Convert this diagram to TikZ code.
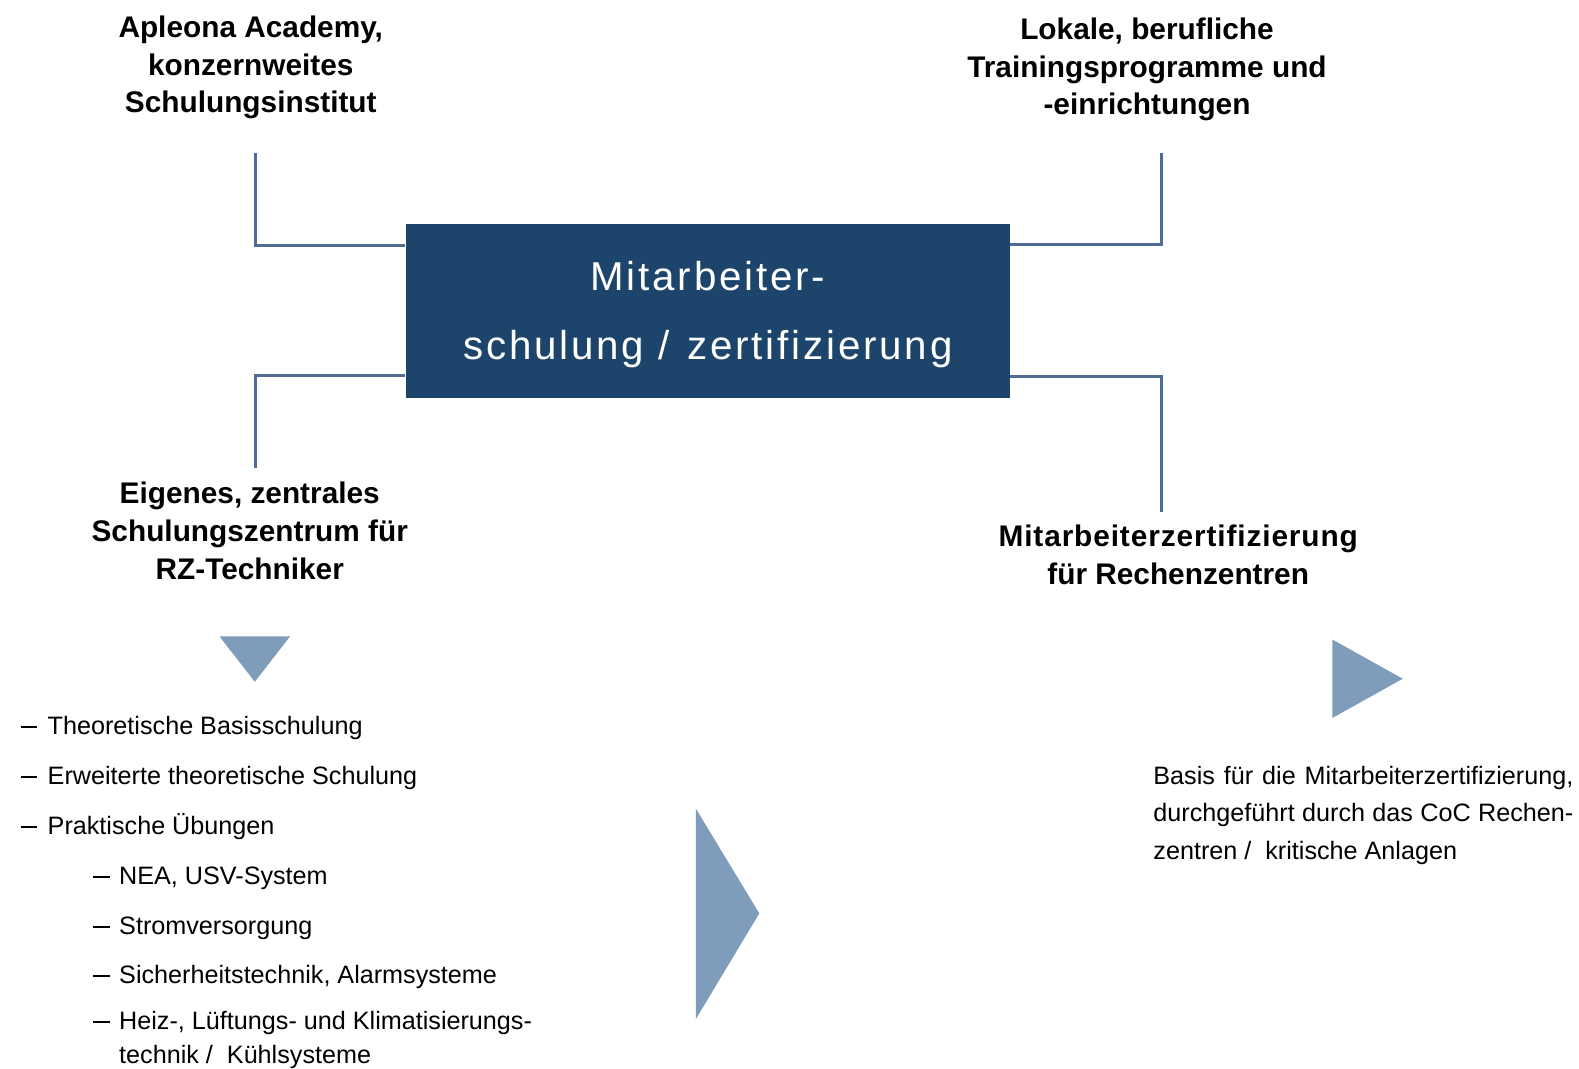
\documentclass[tikz,border=0pt]{standalone}
\usepackage{fontspec}
\setmainfont{Liberation Sans}
\newfontfamily\boxfont[LetterSpace=7]{Liberation Sans}
\newfontfamily\widebold[LetterSpace=3]{Liberation Sans}
\definecolor{boxblue}{HTML}{1D456C}
\definecolor{linkblue}{HTML}{4F6C92}
\definecolor{arrowblue}{HTML}{7F9CBA}
\newcommand{\itemdash}{\rule[0.26em]{0.66em}{0.075em}}
\tikzset{
  heading/.style={inner sep=0pt, anchor=base, align=center,
    font=\fontsize{14.8pt}{18.75pt}\selectfont\bfseries},
  conn/.style={draw=linkblue, line width=1.5pt},
  arrowtri/.style={fill=arrowblue},
  boxtext/.style={inner sep=0pt, anchor=base, text=white,
    font=\fontsize{20pt}{24pt}\selectfont\boxfont},
  item/.style={inner sep=0pt, anchor=base west,
    font=\fontsize{12.5pt}{17pt}\selectfont},
  note/.style={inner sep=0pt, anchor=base west,
    font=\fontsize{12.5pt}{18.5pt}\selectfont},
}
\begin{document}
\begin{tikzpicture}[x=0.5pt,y=-0.5pt]
\useasboundingbox (0,0) rectangle (1568,1061);

% central box
\node[fill=boxblue, minimum width=300pt, minimum height=86.5pt, inner sep=0pt]
  (box) at (703,308.5) {};
\node[boxtext] (boxl1) at (703,288) {Mitarbeiter-};
\node[boxtext] (boxl2) at (703,357) {schulung /\hspace{0.1em} zertifizierung};

% four headings (anchored at the baseline of their last line)
\node[heading] (acad) at (249,112) {Apleona Academy,\\konzernweites\\Schulungsinstitut};
\node[heading] (lokal) at (1139,114) {Lokale, berufliche\\Trainingsprogramme und\\-einrichtungen};
\node[heading] (eigen) at (248,575) {Eigenes, zentrales\\Schulungszentrum für\\RZ-Techniker};
\node[heading] (zert) at (1170,580) {{\widebold Mitarbeiterzertifizierung}\\für Rechenzentren};

% connector ends
\coordinate (tl) at (254,152);
\coordinate (tr) at (1153,152);
\coordinate (bl) at (254,465);
\coordinate (br) at (1153,508);

\draw[conn] (tl) |- ([yshift=-11pt]box.north west);
\draw[conn] (tr) |- ([yshift=-10.5pt]box.north east);
\draw[conn] (bl) |- ([yshift=11.5pt]box.south west);
\draw[conn] (br) |- ([yshift=11pt]box.south east);

% triangles
\fill[arrowtri] (218,632) -- (288,632) -- (253,677) -- cycle;
\fill[arrowtri] (691,803) -- (691,1012) -- (754,907) -- cycle;
\fill[arrowtri] (1323,635) -- (1323,713) -- (1393,674) -- cycle;

% list of training contents
\node[item] (d1) at (20,729) {\itemdash};
\node[item] (i1) at (47,729) {Theoretische Basisschulung};
\node[item] (d2) at (20,779) {\itemdash};
\node[item] (i2) at (47,779) {Erweiterte theoretische Schulung};
\node[item] (d3) at (20,829) {\itemdash};
\node[item] (i3) at (47,829) {Praktische Übungen};
\node[item] (d4) at (92,878) {\itemdash};
\node[item] (i4) at (118,878) {NEA, USV-System};
\node[item] (d5) at (92,928) {\itemdash};
\node[item] (i5) at (118,928) {Stromversorgung};
\node[item] (d6) at (92,977) {\itemdash};
\node[item] (i6) at (118,977) {Sicherheitstechnik, Alarmsysteme};
\node[item] (d7) at (92,1022) {\itemdash};
\node[item] (i7) at (118,1022) {Heiz-, Lüftungs- und Klimatisierungs-};
\node[item] (i7b) at (118,1056) {technik /\ \ Kühlsysteme};

% note on certification
\node[note] (n1) at (1145,779) {\makebox[208.5pt][s]{Basis für die Mitarbeiterzertifizierung,}};
\node[note] (n2) at (1145,816) {\makebox[208.5pt][s]{durchgeführt durch das CoC Rechen-}};
\node[note] (n3) at (1145,853) {zentren /\ \ kritische Anlagen};
\end{tikzpicture}
\end{document}
